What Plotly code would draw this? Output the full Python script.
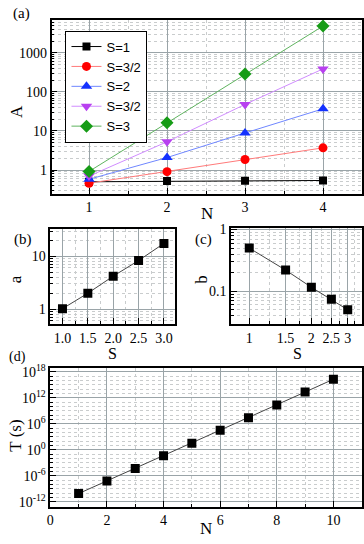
import plotly.graph_objects as go

# ---- data ----
N_a = [1, 2, 3, 4]
A_S1 = [0.50, 0.52, 0.53, 0.54]
A_S32 = [0.46, 0.91, 1.86, 3.7]
A_S2 = [0.58, 2.09, 8.9, 37]
A_S52 = [0.70, 5.3, 48, 390]
A_S3 = [0.92, 16.2, 290, 4900]
series_names = ["S=1", "S=3/2", "S=2", "S=3/2", "S=3"]

S_b = [1.0, 1.5, 2.0, 2.5, 3.0]
a_vals = [1.02, 2.0, 4.2, 8.3, 17.5]

S_c = [1, 1.5, 2, 2.5, 3]
b_vals = [0.50, 0.22, 0.116, 0.074, 0.050]

N_d = [1, 2, 3, 4, 5, 6, 7, 8, 9, 10]
T_vals = [7.9e-11, 6.3e-8, 5.0e-5, 4.4e-2, 32, 3.2e4, 2.5e7, 2.0e10, 2.0e13, 1.8e16]

W, H = 364, 544
def px(x):
    return x / W
def py(y):
    return 1 - y / H

SERIF = "Liberation Serif"
SANS = "Liberation Sans"
MAJ = "#9aa4a8"
MIN = "#c9cccd"

fig = go.Figure()

styles = [
    dict(mc="#000000", lc="#000000", sym="square", size=8),
    dict(mc="#ff0000", lc="#ff7a7a", sym="circle", size=9),
    dict(mc="#1432ff", lc="#6f86ff", sym="triangle-up", size=10),
    dict(mc="#b840f0", lc="#d08cff", sym="triangle-down", size=10),
    dict(mc="#169c16", lc="#5fb35f", sym="diamond", size=10),
]
for ys, name, st in zip([A_S1, A_S32, A_S2, A_S52, A_S3], series_names, styles):
    fig.add_trace(go.Scatter(x=N_a, y=ys, name=name, mode="lines+markers",
                             line=dict(color=st["lc"], width=1),
                             marker=dict(color=st["mc"], symbol=st["sym"], size=st["size"]),
                             xaxis="x", yaxis="y"))

fig.add_trace(go.Scatter(x=S_b, y=a_vals, mode="lines+markers", showlegend=False,
                         line=dict(color="#444444", width=1),
                         marker=dict(color="black", symbol="square", size=9),
                         xaxis="x2", yaxis="y2"))
fig.add_trace(go.Scatter(x=S_c, y=b_vals, mode="lines+markers", showlegend=False,
                         line=dict(color="#444444", width=1),
                         marker=dict(color="black", symbol="square", size=9),
                         xaxis="x3", yaxis="y3"))
fig.add_trace(go.Scatter(x=N_d, y=T_vals, mode="lines+markers", showlegend=False,
                         line=dict(color="#444444", width=1),
                         marker=dict(color="black", symbol="square", size=9),
                         xaxis="x4", yaxis="y4"))

def logminor(lo, hi):
    v = []
    for k in range(lo, hi + 1):
        for m in range(2, 10):
            v.append(m * 10.0 ** k)
    return v

def ax(domain, anchor, **kw):
    d = dict(domain=domain, anchor=anchor, showline=True, linecolor="black", linewidth=1.5,
             mirror=True, ticks="inside", ticklen=6, tickcolor="black",
             showgrid=True, gridcolor=MAJ, gridwidth=1.3, zeroline=False,
             tickfont=dict(family=SERIF, size=14, color="black"))
    d.update(kw)
    return d

def minor(vals):
    return dict(tickvals=vals, ticks="inside", ticklen=3, tickcolor="black",
                showgrid=True, gridcolor=MIN, griddash="dot", gridwidth=1)

fig.update_layout(
    width=W, height=H, margin=dict(l=0, r=0, t=0, b=0),
    paper_bgcolor="white", plot_bgcolor="white",
    xaxis=ax([px(49), px(362)], "y", range=[0.52, 4.5], tickvals=[1, 2, 3, 4],
             minor=minor([0.5, 1.5, 2.5, 3.5, 4.5])),
    yaxis=ax([py(191), py(14)], "x", type="log", range=[-0.61, 3.85],
             tickvals=[1, 10, 100, 1000], ticktext=["1", "10", "100", "1000"],
             minor=minor(logminor(-1, 3))),
    xaxis2=ax([px(47.7), px(173)], "y2", range=[0.76, 3.21], tickvals=S_b,
              tickformat=".1f", minor=minor([1.25, 1.75, 2.25, 2.75])),
    yaxis2=ax([py(323.3), py(226.5)], "x2", type="log", range=[-0.28, 1.52],
              tickvals=[1, 10], ticktext=["1", "10"], minor=minor(logminor(-1, 1))),
    xaxis3=ax([px(230), px(361.7)], "y3", type="log", range=[-0.088, 0.545],
              tickvals=S_c, ticktext=["1", "1.5", "2", "2.5", "3"],
              minor=minor([1.25, 1.75, 2.25, 2.75, 3.25])),
    yaxis3=ax([py(323.3), py(226)], "x3", type="log", range=[-1.53, 0.02],
              tickvals=[0.1, 1], ticktext=["0.1", "1"], minor=minor(logminor(-2, -1))),
    xaxis4=ax([px(47.7), px(361.7)], "y4", range=[0, 11], tickvals=[0, 2, 4, 6, 8, 10],
              minor=minor([1, 3, 5, 7, 9, 11])),
    yaxis4=ax([py(509), py(368.3)], "x4", type="log", range=[-13.1, 18.8],
              tickvals=[1e-12, 1e-6, 1, 1e6, 1e12, 1e18],
              ticktext=["10<sup>-12</sup>", "10<sup>-6</sup>", "10<sup>0</sup>",
                        "10<sup>6</sup>", "10<sup>12</sup>", "10<sup>18</sup>"],
              minor=minor([10.0 ** k for k in range(-13, 19) if k % 6 != 0])),
    legend=dict(x=px(63), y=py(25), xanchor="left", yanchor="top",
                bgcolor="white", bordercolor="black", borderwidth=1,
                font=dict(family=SANS, size=13, color="black"),
                tracegroupgap=0, itemwidth=30),
    showlegend=True,
)

def label(text, x, y, size=17, angle=0):
    fig.add_annotation(text=text, x=px(x), y=py(y), xref="paper", yref="paper",
                       showarrow=False, textangle=angle, xanchor="center", yanchor="middle",
                       font=dict(family=SERIF, size=size, color="black"))

label("(a)", 19, 8, size=15)
label("(b)", 20, 237, size=15)
label("(c)", 202, 237, size=15)
label("(d)", 15, 357, size=14)
label("A", 13, 107, angle=-90)
label("N", 206, 211)
label("a", 13, 278, angle=-90)
label("b", 200, 278, angle=-90)
label("S", 110, 353, size=16)
label("S", 297, 353, size=16)
label("T (s)", 13, 437, angle=-90)
label("N", 205, 531)

fig.write_html("out.html", config={"displayModeBar": False},
               post_script=["document.body.style.margin='0';document.body.style.overflow='hidden';"])
